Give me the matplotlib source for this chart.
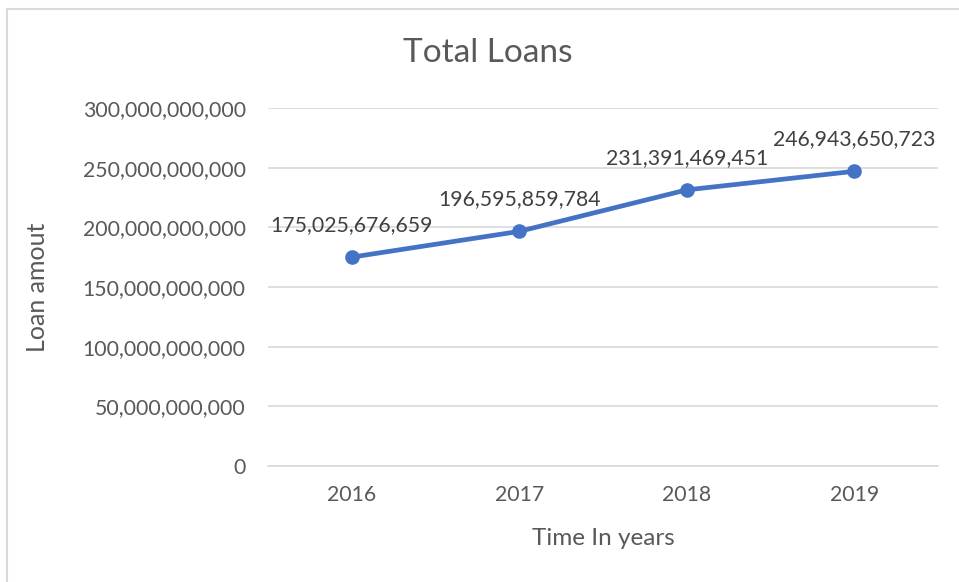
import matplotlib.pyplot as plt
from matplotlib.ticker import FuncFormatter
from matplotlib.lines import Line2D

years = ["2016", "2017", "2018", "2019"]
loans = [175025676659, 196595859784, 231391469451, 246943650723]
y_ticks = [0, 50e9, 100e9, 150e9, 200e9, 250e9, 300e9]

plt.rcParams['font.family'] = ['Lato', 'DejaVu Sans']
text_grey = '#595959'

fig = plt.figure(figsize=(9.59, 5.82), dpi=100)
ax = fig.add_axes([268/959, 1-466/582, 670/959, 358/582])

x = list(range(len(years)))
ax.plot(x, loans, color='#4472C4', linewidth=3.4, marker='o', markersize=9.5,
        solid_capstyle='round', zorder=3)

for xi, v in zip(x, loans):
    ax.annotate(f"{v:,}", (xi, v), xytext=(0, 23), textcoords='offset points',
                ha='center', va='center', fontsize=15.3, color='#404040')

ax.set_xlim(-0.5, len(years) - 0.5)
ax.set_ylim(0, 300e9)
ax.set_yticks(y_ticks)
ax.yaxis.set_major_formatter(FuncFormatter(lambda v, p: f"{int(v):,}"))
ax.set_xticks(x)
ax.set_xticklabels(years)

ax.grid(axis='y', color='#d9d9d9', linewidth=1.2)
ax.set_axisbelow(True)
for s in ['top', 'right', 'left']:
    ax.spines[s].set_visible(False)
ax.spines['bottom'].set_color('#d9d9d9')
ax.spines['bottom'].set_linewidth(1.2)
ax.tick_params(length=0, labelsize=15.3, labelcolor=text_grey)
ax.tick_params(axis='y', pad=16)
ax.tick_params(axis='x', pad=14)

ax.set_xlabel('Time In years', fontsize=17.5, color=text_grey, labelpad=16)
ax.set_ylabel('Loan amout', fontsize=18, color=text_grey, labelpad=24)
fig.text(488/959, 1-53/582, 'Total Loans', fontsize=24, color=text_grey,
         ha='center', va='center')

# chart frame
fig.add_artist(Line2D([7/959, 1], [1-9/582, 1-9/582], color='#d9d9d9', linewidth=1.5))
fig.add_artist(Line2D([7/959, 7/959], [0, 1-9/582], color='#d9d9d9', linewidth=1.5))

fig.savefig('out.png', dpi=100, facecolor='white')
